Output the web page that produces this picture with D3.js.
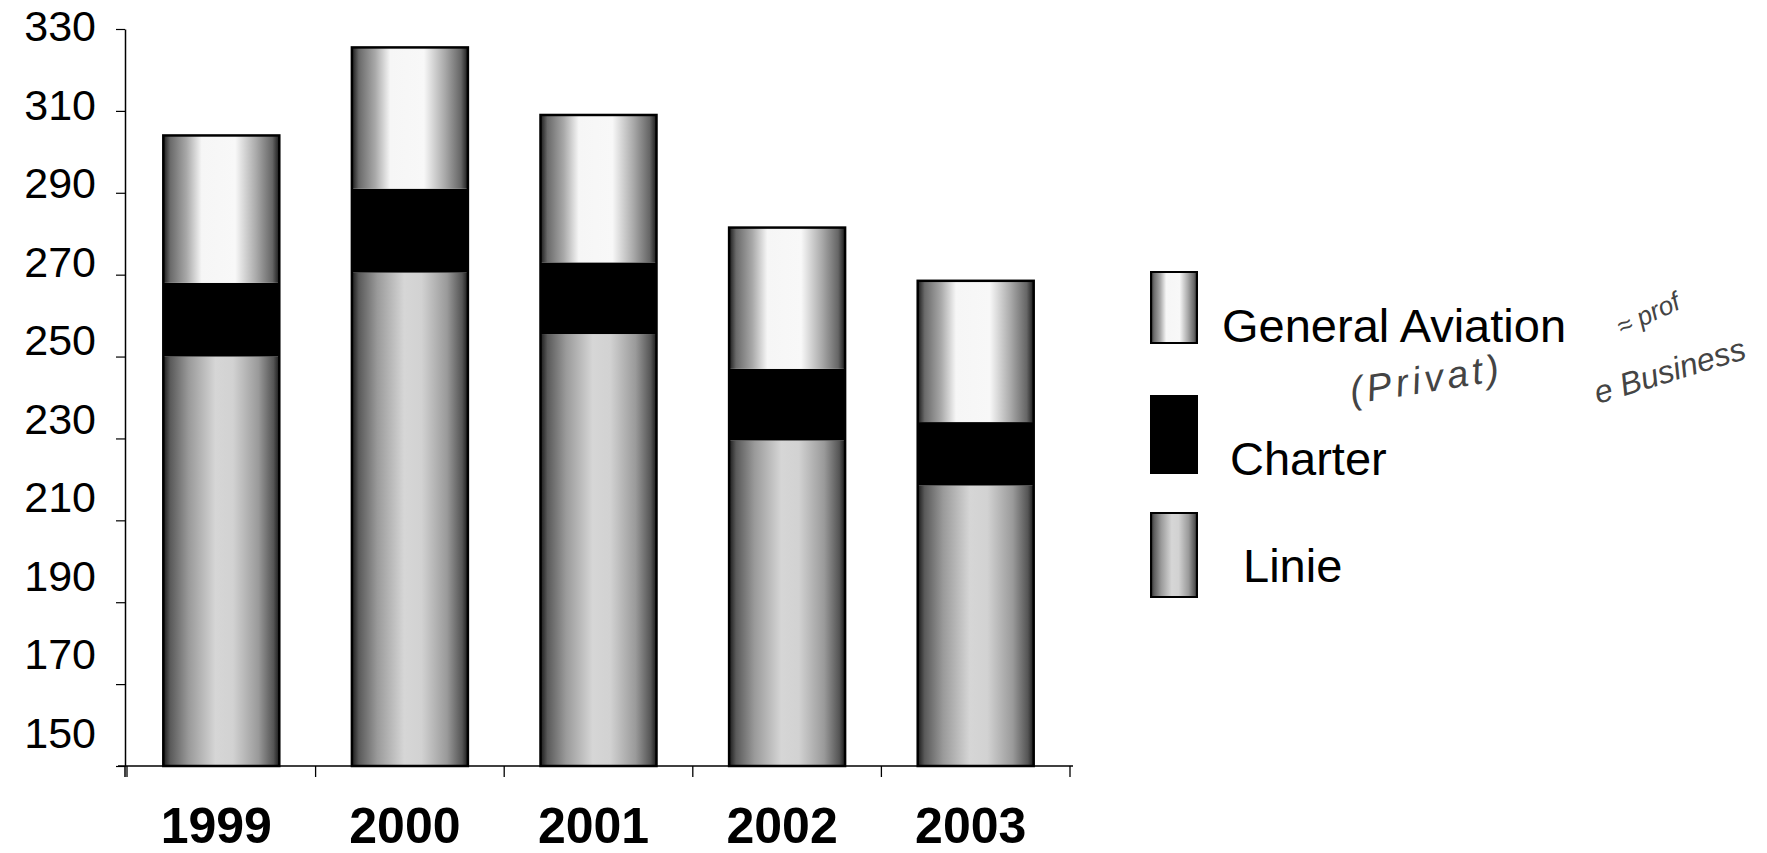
<!DOCTYPE html>
<html>
<head>
<meta charset="utf-8">
<script src="https://cdn.jsdelivr.net/npm/d3@7/dist/d3.min.js"></script>
<style>
  html, body { margin: 0; padding: 0; background: #fff; }
  svg { display: block; }
  text { font-family: "Liberation Sans", Arial, Helvetica, sans-serif; fill: #000; }
</style>
</head>
<body>
<svg id="chart" width="1767" height="853"></svg>
<script>
// ---- data ----
const years = ["1999", "2000", "2001", "2002", "2003"];
const linie = [250, 270.5, 255.5, 229.5, 218.5];
const charter = [18, 20.5, 17.5, 17.5, 15.5];
const generalAviation = [36, 34.5, 36, 34.5, 34.5];
const seriesNames = ["Linie", "Charter", "General Aviation"];
const yTicks = [150, 170, 190, 210, 230, 250, 270, 290, 310, 330];

const rows = years.map((yr, i) => ({
  year: yr,
  "Linie": linie[i],
  "Charter": charter[i],
  "General Aviation": generalAviation[i]
}));

const svg = d3.select("#chart");

// gradients
const defs = svg.append("defs");
function grad(id, stops) {
  const g = defs.append("linearGradient").attr("id", id)
    .attr("x1", "0%").attr("x2", "100%").attr("y1", "0%").attr("y2", "0%");
  stops.forEach(s => g.append("stop").attr("offset", s[0]).attr("stop-color", s[1]));
}
grad("gLinie", [["0%", "#1a1a1a"], ["6%", "#5a5a5a"], ["22%", "#9a9a9a"], ["45%", "#d6d6d6"], ["60%", "#d2d2d2"], ["82%", "#9a9a9a"], ["95%", "#555"], ["100%", "#1a1a1a"]]);
grad("gGA", [["0%", "#1a1a1a"], ["6%", "#6a6a6a"], ["20%", "#a8a8a8"], ["33%", "#f6f6f6"], ["62%", "#f8f8f8"], ["80%", "#aaaaaa"], ["94%", "#666"], ["100%", "#1a1a1a"]]);
grad("gCharter", [["0%", "#000"], ["100%", "#000"]]);
const fills = { "Linie": "url(#gLinie)", "Charter": "url(#gCharter)", "General Aviation": "url(#gGA)" };

// scales
const y = d3.scaleLinear().domain([150, 330]).range([766, 29]);
const yLabel = d3.scaleLinear().domain([150, 330]).range([732, 25.5]);
const x = d3.scaleBand().domain(years).range([127, 1070]).paddingInner(0.385).paddingOuter(0.1925);

// y axis
const gy = svg.append("g").attr("transform", "translate(125,0)")
  .call(d3.axisLeft(y).tickValues(yTicks).tickSize(9).tickSizeOuter(0).tickPadding(30));
gy.select(".domain").attr("stroke", "#000").attr("stroke-width", 1.5);
gy.selectAll(".tick line").attr("stroke", "#000").attr("stroke-width", 1.2);
gy.selectAll(".tick text")
  .attr("font-size", 43)
  .attr("x", -29)
  .attr("y", d => yLabel(d) - y(d))
  .attr("dy", "0.36em")
  .style("font-family", "'Liberation Sans', Arial, sans-serif");
svg.append("line").attr("x1", 125).attr("x2", 125).attr("y1", 766).attr("y2", 777)
  .attr("stroke", "#000").attr("stroke-width", 1.5);

// stacked bars
const stack = d3.stack().keys(seriesNames)(rows);
const layers = svg.append("g").selectAll("g").data(stack).join("g")
  .attr("fill", d => fills[d.key]);
layers.selectAll("rect").data(d => d).join("rect")
  .attr("x", d => x(d.data.year))
  .attr("width", x.bandwidth())
  .attr("y", d => y(d[1]))
  .attr("height", d => y(Math.max(d[0], 150)) - y(d[1]));

// bar outlines
svg.append("g").selectAll("rect").data(rows).join("rect")
  .attr("x", d => x(d.year))
  .attr("width", x.bandwidth())
  .attr("y", d => y(d["Linie"] + d["Charter"] + d["General Aviation"]))
  .attr("height", d => y(150) - y(d["Linie"] + d["Charter"] + d["General Aviation"]))
  .attr("fill", "none").attr("stroke", "#000").attr("stroke-width", 2.5);

// x axis
const gx = svg.append("g").attr("transform", "translate(0,766)")
  .call(d3.axisBottom(x).tickSize(0).tickPadding(41).tickSizeOuter(0));
gx.select(".domain").remove();
gx.selectAll(".tick text").attr("font-size", 50).attr("font-weight", "bold")
  .attr("dx", -5)
  .style("font-family", "'Liberation Sans', Arial, sans-serif");
svg.append("line").attr("x1", 118).attr("x2", 1073).attr("y1", 766).attr("y2", 766)
  .attr("stroke", "#000").attr("stroke-width", 1.5);
const bounds = d3.range(years.length + 1).map(i => x.range()[0] + i * x.step());
svg.append("g").selectAll("line").data(bounds).join("line")
  .attr("x1", d => d).attr("x2", d => d).attr("y1", 766).attr("y2", 777)
  .attr("stroke", "#000").attr("stroke-width", 1.3);

// legend
const legendItems = [
  { name: "General Aviation", fill: fills["General Aviation"], sy: 272, sh: 71, tx: 1222, ty: 342 },
  { name: "Charter", fill: fills["Charter"], sy: 396, sh: 77, tx: 1230, ty: 475 },
  { name: "Linie", fill: fills["Linie"], sy: 513, sh: 84, tx: 1243, ty: 582 }
];
const lg = svg.append("g");
lg.selectAll("rect").data(legendItems).join("rect")
  .attr("x", 1151).attr("width", 46)
  .attr("y", d => d.sy).attr("height", d => d.sh)
  .attr("fill", d => d.fill).attr("stroke", "#000").attr("stroke-width", 2);
lg.selectAll("text").data(legendItems).join("text")
  .attr("x", d => d.tx).attr("y", d => d.ty)
  .attr("font-size", 47)
  .text(d => d.name);

// handwritten annotation
const note = svg.append("g").style("font-family", "'DejaVu Sans', sans-serif")
  .style("font-style", "italic");
note.append("text").attr("transform", "translate(1352,404) rotate(-9)")
  .attr("font-size", 38).attr("letter-spacing", 4).style("fill", "#444").text("(Privat)");
note.append("text").attr("transform", "translate(1622,336) rotate(-25)")
  .attr("font-size", 26).style("fill", "#444").text("≈ prof");
note.append("text").attr("transform", "translate(1598,404) rotate(-17)")
  .attr("font-size", 32).style("fill", "#444").text("e Business");
</script>
</body>
</html>
